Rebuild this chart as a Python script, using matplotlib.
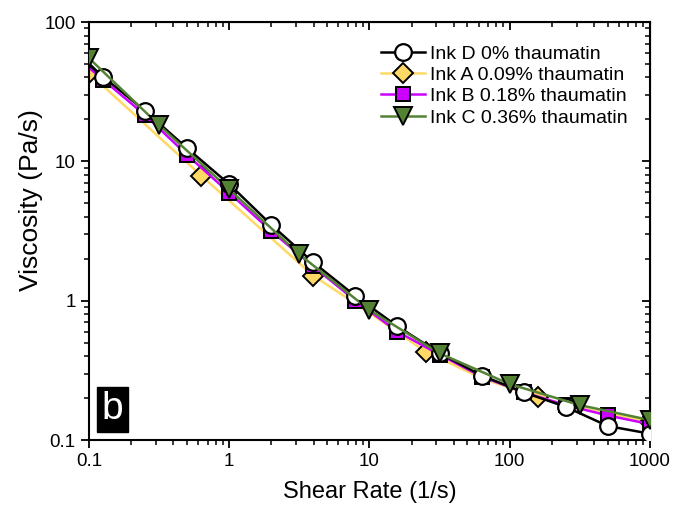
import matplotlib
matplotlib.use('Agg')
import matplotlib.pyplot as plt

plt.rcParams['font.family'] = ['Liberation Sans', 'DejaVu Sans']

# Ink D 0% thaumatin (line starts at 0.1, markers from second point)
x_d = [0.1, 0.126, 0.251, 0.501, 1.0, 2.0, 3.98, 7.94, 15.8, 31.6, 63.1, 126, 251, 501, 1000]
y_d = [49, 40.5, 23.0, 12.4, 6.85, 3.49, 1.88, 1.08, 0.655, 0.42, 0.29, 0.22, 0.173, 0.126, 0.111]

# Ink A 0.09% thaumatin (markers at 0.1, 0.63, 3.98, 25.1, 158, 1000)
x_a = [0.1, 0.631, 3.98, 10.0, 25.1, 63.1, 158, 398, 1000]
y_a = [43, 7.9, 1.51, 0.82, 0.43, 0.278, 0.202, 0.162, 0.135]
mark_a = [0, 1, 2, 4, 6, 8]

# Ink B 0.18% thaumatin
x_b = [0.1, 0.126, 0.251, 0.501, 1.0, 2.0, 3.98, 7.94, 15.8, 31.6, 63.1, 126, 251, 501, 1000]
y_b = [47, 38.5, 21.5, 11.1, 5.95, 3.15, 1.76, 1.0, 0.60, 0.41, 0.285, 0.22, 0.178, 0.15, 0.13]

# Ink C 0.36% thaumatin
x_c = [0.1, 0.316, 1.0, 3.16, 10.0, 31.6, 100, 316, 1000]
y_c = [55, 18.2, 6.3, 2.15, 0.857, 0.419, 0.252, 0.178, 0.139]

fig = plt.figure(figsize=(6.87, 5.05), dpi=100)
ax = fig.add_axes([0.1296, 0.1287, 0.8164, 0.8277])

ax.plot(x_d, y_d, color='black', lw=1.8, marker='o', markevery=list(range(1, len(x_d))),
        ms=12, mfc='white', mec='black', mew=1.6, label='Ink D 0% thaumatin', zorder=3)
ax.plot(x_a, y_a, color='#FFD966', lw=1.8, marker='D', markevery=mark_a,
        ms=10, mfc='#FFD966', mec='black', mew=1.4, label='Ink A 0.09% thaumatin', zorder=2)
ax.plot(x_b, y_b, color='#CC00FF', lw=1.8, marker='s', markevery=list(range(1, len(x_b))),
        ms=10, mfc='#CC00FF', mec='black', mew=1.4, label='Ink B 0.18% thaumatin', zorder=2.5)
ax.plot(x_c, y_c, color='#548235', lw=1.8, marker='v', ms=13,
        mfc='#548235', mec='black', mew=1.4, label='Ink C 0.36% thaumatin', zorder=4)

ax.set_xscale('log')
ax.set_yscale('log')
ax.set_xlim(0.1, 1000)
ax.set_ylim(0.1, 100)
ax.set_xticks([0.1, 1, 10, 100, 1000])
ax.set_xticklabels(['0.1', '1', '10', '100', '1000'])
ax.set_yticks([0.1, 1, 10, 100])
ax.set_yticklabels(['0.1', '1', '10', '100'])

for s in ax.spines.values():
    s.set_linewidth(1.5)
ax.tick_params(which='major', direction='out', length=6, width=1.3, labelsize=13.5)
ax.tick_params(which='minor', direction='out', length=3.5, width=1.1)
ax.tick_params(which='both', top=False, right=False)

# mirrored inward ticks on top and right
sec_x = ax.secondary_xaxis('top')
sec_x.tick_params(which='major', direction='in', length=6, width=1.3, labeltop=False)
sec_x.tick_params(which='minor', direction='in', length=3.5, width=1.1)
sec_y = ax.secondary_yaxis('right')
sec_y.tick_params(which='major', direction='in', length=6, width=1.3, labelright=False)
sec_y.tick_params(which='minor', direction='in', length=3.5, width=1.1)

ax.set_xlabel('Shear Rate (1/s)', fontsize=17, labelpad=8)
ax.set_ylabel('Viscosity (Pa/s)', fontsize=19)
ax.yaxis.set_label_coords(-0.082, 0.575)

ax.legend(loc='upper left', fontsize=14, frameon=False, handlelength=2.3,
          handletextpad=0.25, labelspacing=0.19, borderpad=0, borderaxespad=0,
          bbox_to_anchor=(0.52, 0.945))

ax.text(0.022, 0.03, 'b', transform=ax.transAxes, fontsize=28, color='white',
        ha='left', va='bottom',
        bbox=dict(boxstyle='square,pad=0.12', fc='black', ec='black'))

fig.savefig('out.png', dpi=100)
